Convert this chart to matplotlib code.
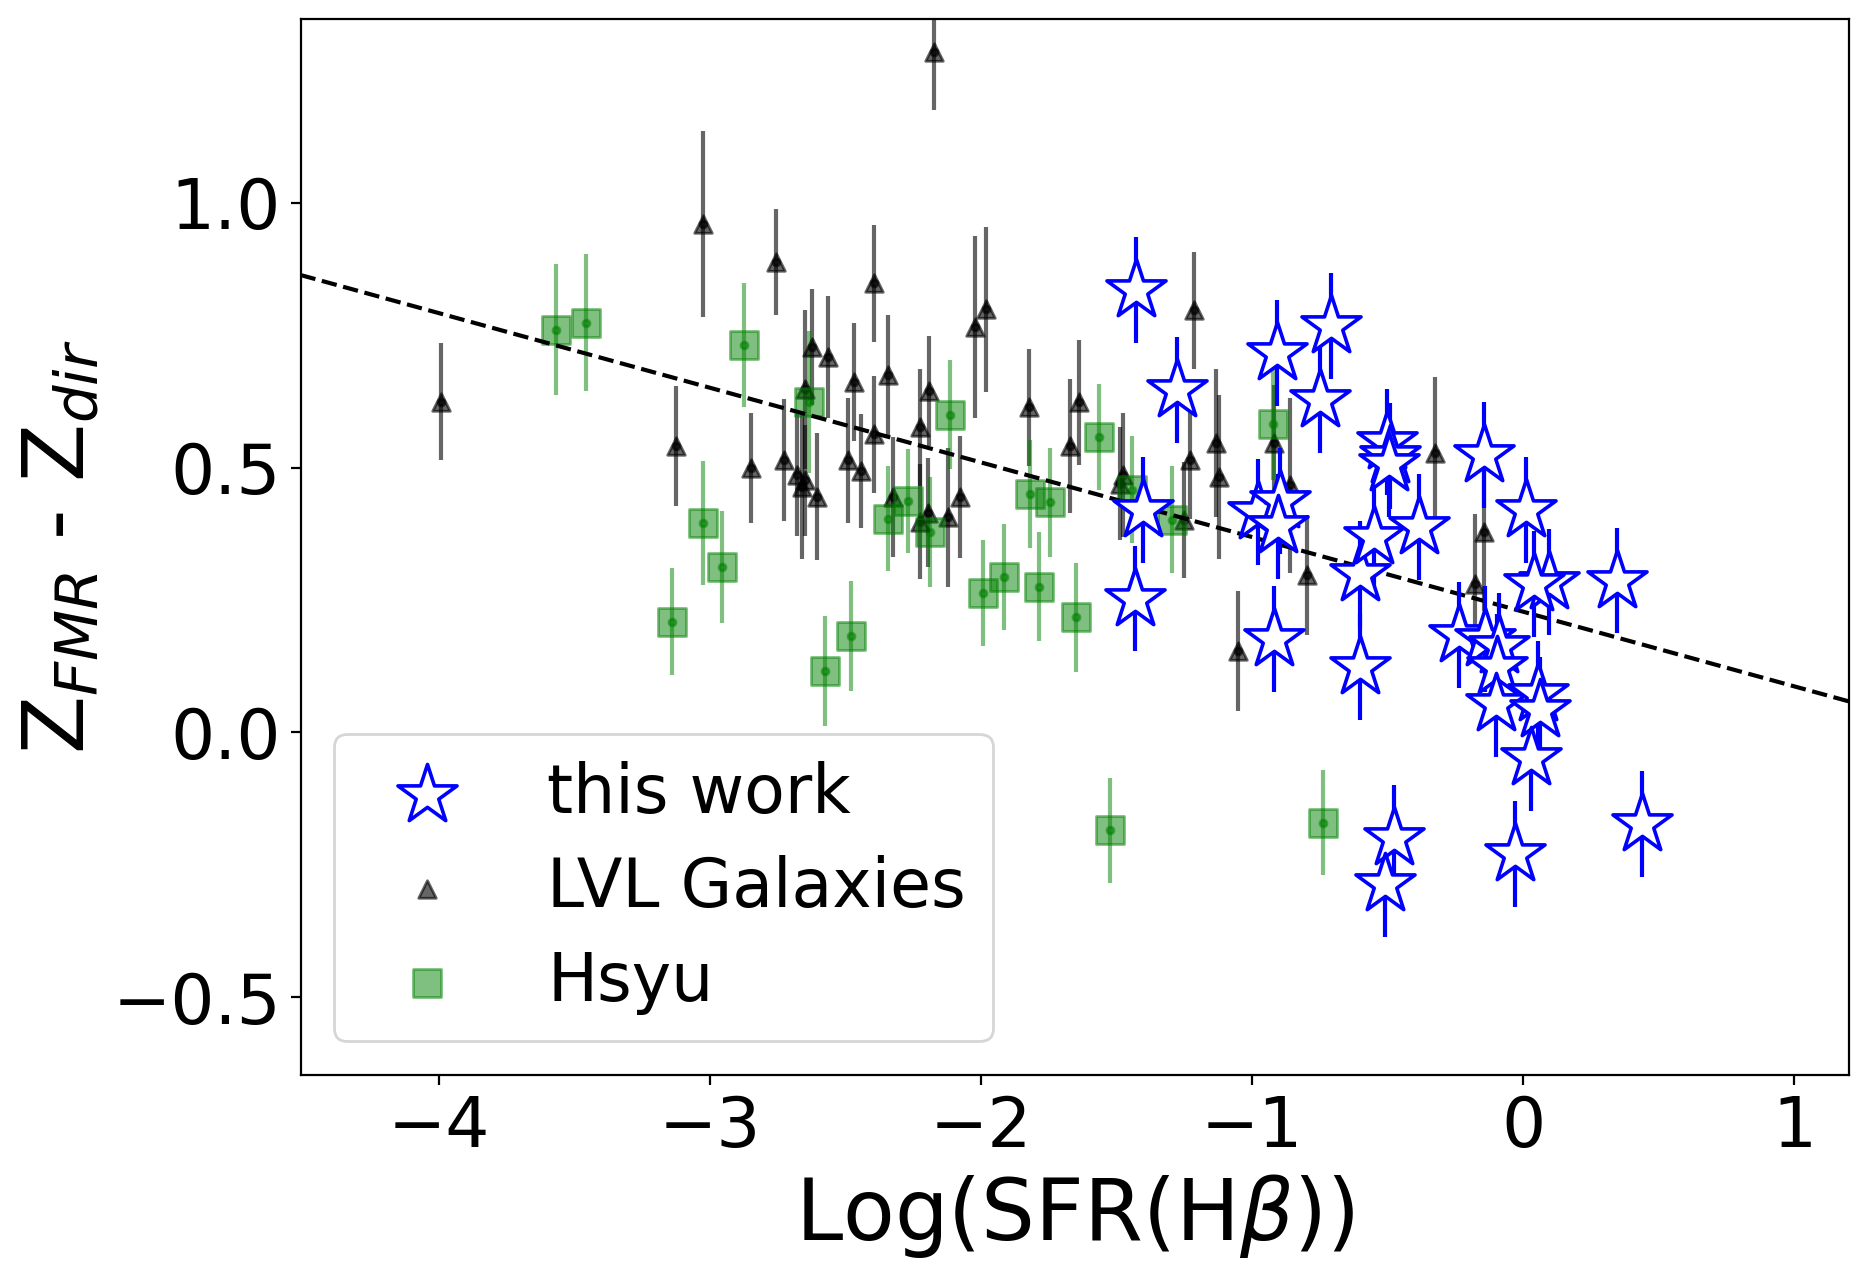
import numpy as np
import matplotlib
matplotlib.use("Agg")
import matplotlib.pyplot as plt

# this work
sfr_this = [-1.428, -1.276, -0.907, -0.708, -0.749, -1.402, -1.431, -0.977, -0.896, -0.906,
            -0.918, -0.604, -0.601, -0.552, -0.386, -0.503, -0.491, -0.497, -0.146, 0.011,
            -0.236, 0.346, 0.093, 0.038, -0.140, -0.091, -0.097, -0.100, 0.054, 0.063,
            0.030, -0.030, 0.439, -0.476, -0.509]
dz_this = [0.836, 0.646, 0.717, 0.767, 0.628, 0.420, 0.253, 0.417, 0.437, 0.389,
           0.177, 0.124, 0.300, 0.370, 0.388, 0.548, 0.522, 0.507, 0.524, 0.421,
           0.184, 0.287, 0.285, 0.281, 0.176, 0.164, 0.124, 0.054, 0.072, 0.042,
           -0.048, -0.229, -0.173, -0.199, -0.286]
dz_this_err = [0.10, 0.10, 0.10, 0.10, 0.10, 0.10, 0.10, 0.10, 0.10, 0.10,
               0.10, 0.10, 0.10, 0.10, 0.10, 0.10, 0.10, 0.10, 0.10, 0.10,
               0.10, 0.10, 0.10, 0.10, 0.10, 0.10, 0.10, 0.10, 0.10, 0.10,
               0.10, 0.10, 0.10, 0.10, 0.10]

# LVL galaxies
sfr_lvl = [-3.991, -2.173, -3.024, -2.755, -2.394, -2.021, -1.981, -3.124, -2.848, -2.726,
           -2.679, -2.661, -2.648, -2.648, -2.623, -2.564, -2.604, -2.470, -2.490, -2.442,
           -2.342, -2.394, -2.323, -2.224, -2.224, -2.191, -2.197, -2.121, -2.077, -1.825,
           -1.671, -1.640, -1.477, -1.488, -1.216, -1.228, -1.250, -1.132, -1.124, -0.918,
           -0.862, -0.798, -1.054, -0.325, -0.146, -0.177]
dz_lvl = [0.625, 1.285, 0.960, 0.889, 0.848, 0.766, 0.799, 0.541, 0.500, 0.514,
          0.486, 0.464, 0.476, 0.648, 0.728, 0.709, 0.445, 0.662, 0.514, 0.494,
          0.675, 0.563, 0.445, 0.398, 0.576, 0.645, 0.415, 0.406, 0.445, 0.614,
          0.541, 0.624, 0.486, 0.470, 0.797, 0.514, 0.401, 0.546, 0.483, 0.546,
          0.467, 0.297, 0.154, 0.528, 0.379, 0.281]
dz_lvl_err = [0.110, 0.110, 0.175, 0.100, 0.110, 0.172, 0.156, 0.113, 0.104, 0.115,
              0.115, 0.136, 0.105, 0.150, 0.110, 0.116, 0.120, 0.112, 0.118, 0.107,
              0.113, 0.110, 0.113, 0.109, 0.111, 0.104, 0.103, 0.132, 0.115, 0.111,
              0.126, 0.118, 0.117, 0.106, 0.111, 0.110, 0.110, 0.140, 0.155, 0.110,
              0.165, 0.113, 0.113, 0.143, 0.150, 0.132]

# Hsyu
sfr_hsyu = [-3.569, -3.456, -2.873, -2.634, -2.114, -3.027, -2.957, -3.139, -2.574, -2.478,
            -2.345, -2.271, -2.187, -1.994, -1.917, -1.821, -1.788, -1.745, -1.651, -1.565,
            -1.443, -1.296, -0.925, -1.524, -0.738]
dz_hsyu = [0.761, 0.774, 0.731, 0.624, 0.600, 0.395, 0.313, 0.209, 0.116, 0.182,
           0.404, 0.437, 0.379, 0.264, 0.293, 0.451, 0.275, 0.435, 0.218, 0.558,
           0.458, 0.402, 0.582, -0.185, -0.170]
dz_hsyu_err = [0.123, 0.130, 0.117, 0.134, 0.103, 0.117, 0.106, 0.101, 0.104, 0.104,
               0.099, 0.099, 0.104, 0.100, 0.100, 0.102, 0.103, 0.103, 0.103, 0.101,
               0.101, 0.101, 0.106, 0.099, 0.100]

# linear fit
fit_slope = -0.141
fit_icpt = 0.228

fig = plt.figure(figsize=(9.35, 6.4), dpi=200)
ax = fig.add_subplot(111)
fig.subplots_adjust(left=0.1607, right=0.9886, bottom=0.1605, top=0.985)

ax.errorbar(sfr_lvl, dz_lvl, yerr=dz_lvl_err, fmt='k.', ms=5, elinewidth=1.5, alpha=0.6, zorder=1)
h_lvl = ax.scatter(sfr_lvl, dz_lvl, marker='^', c='k', s=40, alpha=0.6, label='LVL Galaxies', zorder=2)

ax.errorbar(sfr_hsyu, dz_hsyu, yerr=dz_hsyu_err, fmt='g.', ms=5, elinewidth=1.5, alpha=0.5, zorder=1)
h_hsyu = ax.scatter(sfr_hsyu, dz_hsyu, marker='s', c='g', s=100, alpha=0.5, label='Hsyu', zorder=2)

ax.axline((0, fit_icpt), slope=fit_slope, color='k', ls='--', lw=1.5, zorder=3)

ax.errorbar(sfr_this, dz_this, yerr=dz_this_err, fmt='none', ecolor='b', elinewidth=1.5, zorder=4)
h_this = ax.scatter(sfr_this, dz_this, marker='*', s=500, facecolors='white', edgecolors='b',
                    linewidths=1.3, label='this work', zorder=5)

ax.set_xlim(-4.51, 1.2)
ax.set_ylim(-0.646, 1.347)
ax.set_xlabel(r'Log(SFR(H$\beta$))', fontsize=30.5)
ax.set_ylabel(r'Z$_{FMR}$ - Z$_{dir}$', fontsize=30.5)
ax.tick_params(labelsize=25)
ax.set_yticks([-0.5, 0.0, 0.5, 1.0])

ax.legend(handles=[h_this, h_lvl, h_hsyu], loc='lower left', fontsize=24, labelspacing=0.42)

fig.savefig('out.png', dpi=200)
